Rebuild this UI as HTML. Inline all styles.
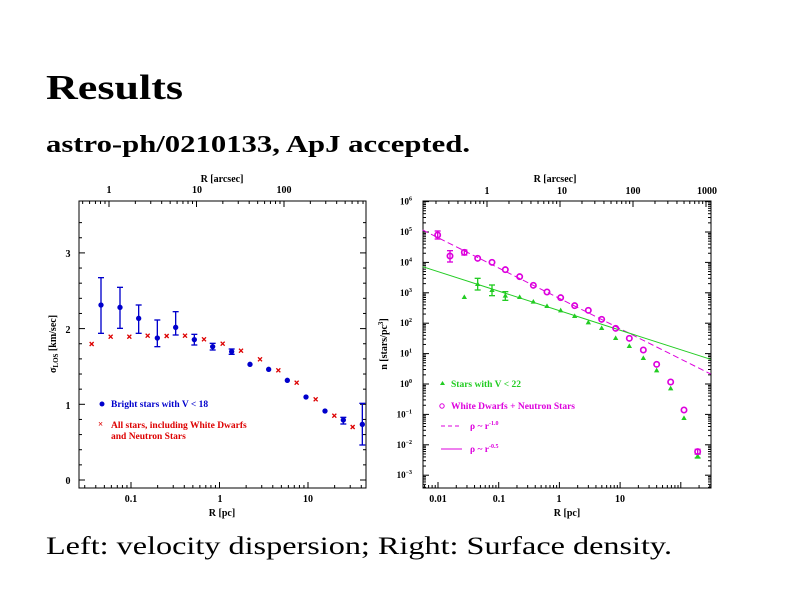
<!DOCTYPE html>
<html><head><meta charset="utf-8"><style>
html,body{margin:0;padding:0;background:#fff;}
svg{display:block;}
.t{font-family:"Liberation Serif",serif;}
.b{font-weight:bold;}
</style></head><body>
<svg id="s" width="800" height="600" xmlns="http://www.w3.org/2000/svg" class="t">
<text x="46" y="99" font-size="35" font-weight="bold" textLength="137" lengthAdjust="spacingAndGlyphs">Results</text>
<text x="46" y="152" font-size="24" font-weight="bold" textLength="424" lengthAdjust="spacingAndGlyphs">astro-ph/0210133, ApJ accepted.</text>
<text x="46" y="554" font-size="25" textLength="626" lengthAdjust="spacingAndGlyphs">Left: velocity dispersion; Right: Surface density.</text>

<rect x="79" y="201" width="287" height="287" fill="none" stroke="#000" stroke-width="1"/>
<g id="lt" stroke="#000" stroke-width="1"></g>
<g font-size="10" text-anchor="middle" class="b">
<text x="222" y="182">R [arcsec]</text>
<text x="109" y="193">1</text><text x="197" y="193">10</text><text x="284" y="193">100</text>
<text x="131" y="502">0.1</text><text x="220" y="502">1</text><text x="308" y="502">10</text>
<text x="222" y="516">R [pc]</text>
<text x="68" y="484">0</text><text x="68" y="409">1</text><text x="68" y="333">2</text><text x="68" y="257">3</text>
<text transform="translate(56,344) rotate(-90)">σ<tspan font-size="7" dy="2">LOS</tspan><tspan dy="-2"> [km/sec]</tspan></text>
</g>
<g transform="translate(40,170) scale(0.33333)" id="L"></g>
<g font-size="9.5" class="b">
<circle cx="102" cy="404" r="2.5" fill="#00c"/>
<text x="111" y="407" fill="#00c">Bright stars with V &lt; 18</text>
<text x="98" y="427" fill="#d00" font-size="9">×</text>
<text x="111" y="428" fill="#d00">All stars, including White Dwarfs</text>
<text x="111" y="439" fill="#d00">and Neutron Stars</text>
</g>

<rect x="423" y="201" width="288" height="287" fill="none" stroke="#000" stroke-width="1"/>
<g id="rt" stroke="#000" stroke-width="1"></g>
<g font-size="10" text-anchor="middle" class="b">
<text x="555" y="182">R [arcsec]</text>
<text x="487" y="194">1</text><text x="562" y="194">10</text><text x="633" y="194">100</text><text x="707" y="194">1000</text>
<text x="438" y="502">0.01</text><text x="499" y="502">0.1</text><text x="559" y="502">1</text><text x="620" y="502">10</text>
<text x="567" y="516">R [pc]</text>
<text transform="translate(387,344) rotate(-90)">n [stars/pc<tspan font-size="7" dy="-4">3</tspan><tspan dy="4">]</tspan></text>
</g>
<g id="ry" font-size="9" text-anchor="end" class="b"></g>
<g transform="translate(370,170) scale(0.33333)" id="R"></g>
<g font-size="9.5" class="b">
<path d="M440 385 l2.5 -4 l2.5 4z" fill="#2c2"/>
<text x="451" y="387" fill="#2c2">Stars with V &lt; 22</text>
<circle cx="442" cy="406" r="2.2" fill="none" stroke="#d0d"/>
<text x="451" y="409" fill="#d0d">White Dwarfs + Neutron Stars</text>
<line x1="441" y1="426" x2="462" y2="426" stroke="#d0d" stroke-dasharray="4,3"/>
<text x="470" y="429" fill="#d0d">ρ ~ r<tspan font-size="6" dy="-4">-1.0</tspan></text>
<line x1="441" y1="449" x2="462" y2="449" stroke="#d0d"/>
<text x="470" y="452" fill="#d0d">ρ ~ r<tspan font-size="6" dy="-4">-0.5</tspan></text>
</g>
</svg>
<script>
var NS="http://www.w3.org/2000/svg";
function el(p,n,a){var e=document.createElementNS(NS,n);for(var k in a)e.setAttribute(k,a[k]);p.appendChild(e);return e;}
function ln(p,x1,y1,x2,y2){el(p,"line",{x1:x1,y1:y1,x2:x2,y2:y2});}
var lt=document.getElementById("lt");
for(var v=0;v<=3.6;v+=0.2){var y=480-v*75.7;var M=Math.abs(v-Math.round(v))<0.01;var l=M?6:3;ln(lt,79,y,79+l,y);ln(lt,366,y,366-l,y);}
function logt(g,x0,dec,xmin,xmax,yb,dir){for(var d=-4;d<=4;d++)for(var m=1;m<10;m++){var x=x0+(d+Math.log10(m))*dec;if(x<xmin+0.5||x>xmax-0.5)continue;var l=m==1?6:3;ln(g,x,yb,x,yb+dir*l);}}
logt(lt,131,88.5,79,366,488,-1);
logt(lt,109,87.5,79,366,201,1);
var rt=document.getElementById("rt");
logt(rt,438,60.7,423,711,488,-1);
logt(rt,487,73,423,711,201,1);
var ry=document.getElementById("ry");
for(var k=-4;k<=6;k++)for(var m=1;m<10;m++){var y=384-(k+Math.log10(m))*30.4;if(y<201.5||y>487.5)continue;var l=m==1?6:3;ln(rt,423,y,423+l,y);ln(rt,711,y,711-l,y);}
for(var k=-3;k<=6;k++){var y=384-k*30.4;var t=el(ry,"text",{x:412,y:y+3});t.textContent="10";var s=el(t,"tspan",{"font-size":"6",dy:"-4"});s.textContent=String(k).replace("-","−");}
var L=document.getElementById("L");
var blue=[[183,405,323,490],[240,412,352,475],[296,445,405,490],[352,504,450,530],[407,472,425,495],[463,509,493,525],[518,530,520,540],[575,545,537,553],[630,583],[686,598],[742,631],[798,681],[855,723],[910,750,742,762],[967,763,700,825]];
blue.forEach(function(p){if(p[2]){var g=el(L,"g",{stroke:"#00c","stroke-width":"4"});ln(g,p[0],p[2],p[0],p[3]);ln(g,p[0]-9,p[2],p[0]+9,p[2]);ln(g,p[0]-9,p[3],p[0]+9,p[3]);}el(L,"circle",{cx:p[0],cy:p[1],r:8,fill:"#00c"});});
var red=[[155,522],[212,500],[268,500],[323,497],[380,498],[435,497],[492,508],[548,521],[603,542],[660,568],[715,601],[770,638],[827,688],[883,737],[938,771]];
red.forEach(function(p){var g=el(L,"g",{stroke:"#d00","stroke-width":"4"});ln(g,p[0]-6,p[1]-6,p[0]+6,p[1]+6);ln(g,p[0]-6,p[1]+6,p[0]+6,p[1]-6);});
var R=document.getElementById("R");
el(R,"line",{x1:158,y1:180,x2:1022,y2:612,stroke:"#d0d","stroke-width":"3","stroke-dasharray":"18,10"});
el(R,"line",{x1:158,y1:290,x2:1022,y2:568,stroke:"#2c2","stroke-width":"3"});
var mag=[[203,195,183,207],[240,258,242,276],[283,247,240,255],[323,265],[366,277],[406,299],[449,320],[490,346],[531,366],[572,383],[614,407],[655,421],[695,448],[737,475],[778,505],[820,540],[860,583],[902,636],[942,720],[983,845,838,852]];
var gr=[[283,381],[323,342,325,360],[366,360,345,377],[406,377,365,391],[449,381],[490,395],[531,408],[572,421],[614,438],[655,457],[695,474],[737,504],[778,528],[820,564],[860,601],[902,655],[942,744],[983,858,852,864]];
function eb(p,c){if(p[2]){var g=el(R,"g",{stroke:c,"stroke-width":"4"});ln(g,p[0],p[2],p[0],p[3]);ln(g,p[0]-9,p[2],p[0]+9,p[2]);ln(g,p[0]-9,p[3],p[0]+9,p[3]);}}
gr.forEach(function(p){eb(p,"#2c2");el(R,"path",{d:"M"+(p[0]-8)+" "+(p[1]+6)+" L"+p[0]+" "+(p[1]-8)+" L"+(p[0]+8)+" "+(p[1]+6)+"Z",fill:"#2c2"});});
mag.forEach(function(p){eb(p,"#d0d");el(R,"circle",{cx:p[0],cy:p[1],r:8,fill:"none",stroke:"#d0d","stroke-width":"5"});});
</script>
</body></html>
